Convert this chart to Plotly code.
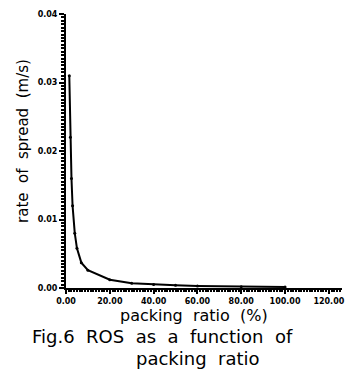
import plotly.graph_objects as go

packing_ratio = [1.5, 2.0, 2.5, 3.0, 4.0, 5.0, 7.0, 10.0, 20.0, 30.0, 40.0, 50.0, 60.0, 80.0, 100.0]
ros = [0.031, 0.022, 0.016, 0.012, 0.008, 0.0058, 0.0037, 0.0026, 0.0012, 0.0007, 0.0005, 0.0004, 0.0003, 0.0002, 0.00015]

x_ticks = [0, 20, 40, 60, 80, 100, 120]
y_ticks = [0.0, 0.01, 0.02, 0.03, 0.04]

fig = go.Figure()
fig.add_trace(go.Scatter(x=packing_ratio, y=ros, mode="lines+markers",
                         line=dict(color="black", width=2),
                         marker=dict(color="black", size=3)))

tickfont = dict(family="DejaVu Sans", size=8, color="black", weight="bold")
cap = dict(family="DejaVu Sans", size=18, color="black")
fig.update_layout(
    width=355, height=372,
    margin=dict(l=66, r=10, t=13, b=84),
    paper_bgcolor="white", plot_bgcolor="white",
    showlegend=False,
    xaxis=dict(range=[0, 126], tickvals=x_ticks, ticktext=[f"{v:.2f}" for v in x_ticks],
               showgrid=False, zeroline=False, showline=True, linecolor="black", linewidth=2,
               ticks="outside", ticklen=4, tickwidth=1.5, tickcolor="black", tickfont=tickfont,
               minor=dict(dtick=1.25, ticks="outside", ticklen=2, tickcolor="black", showgrid=False)),
    yaxis=dict(range=[0, 0.04], tickvals=y_ticks, ticktext=[f"{v:.2f}" for v in y_ticks],
               showgrid=False, zeroline=False, showline=True, linecolor="black", linewidth=2,
               ticks="outside", ticklen=5, tickwidth=1.5, tickcolor="black", tickfont=tickfont,
               minor=dict(dtick=0.0005, ticks="outside", ticklen=3, tickcolor="black", showgrid=False)),
    annotations=[
        dict(text="rate  of  spread  (m/s)", xref="paper", yref="paper", x=-0.158, y=0.538,
             xanchor="center", yanchor="middle",
             textangle=-90, showarrow=False, font=dict(family="DejaVu Sans", size=15, color="black")),
        dict(text="packing  ratio  (%)", xref="paper", yref="paper", x=0.462, y=-0.102,
             xanchor="center", yanchor="middle",
             showarrow=False, font=dict(family="DejaVu Sans", size=16, color="black")),
        dict(text="Fig.6  ROS  as  a  function  of", xref="paper", yref="paper", x=0.348, y=-0.176,
             xanchor="center", yanchor="middle", showarrow=False, font=cap),
        dict(text="packing  ratio", xref="paper", yref="paper", x=0.48, y=-0.258,
             xanchor="center", yanchor="middle", showarrow=False, font=cap),
    ],
)
fig.write_html("out.html")
